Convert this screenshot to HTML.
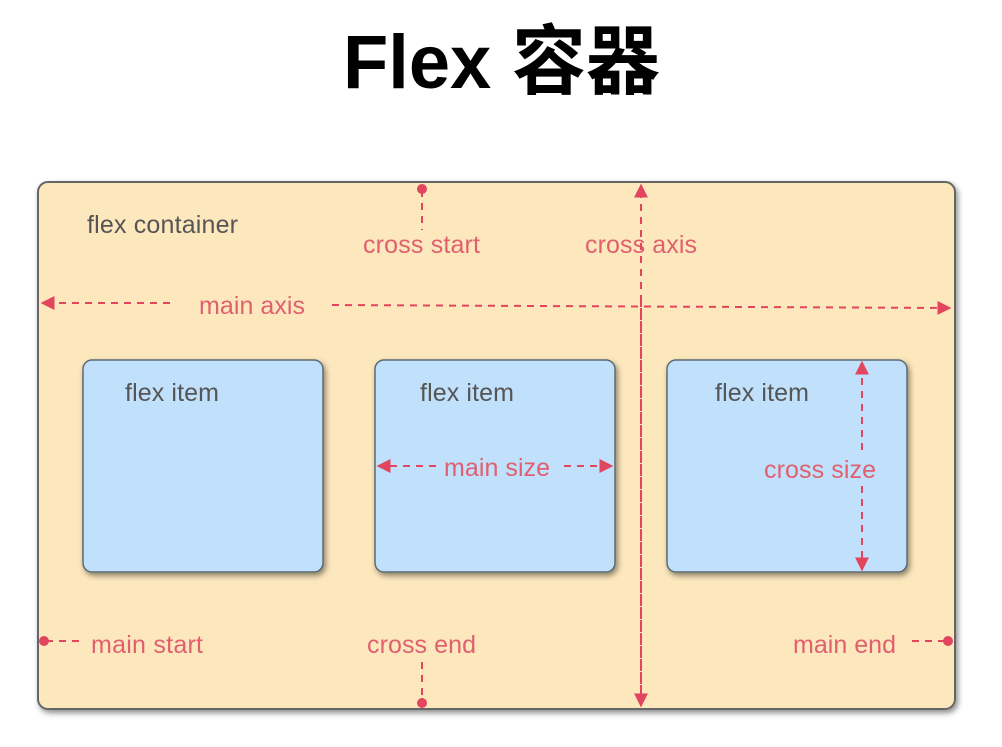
<!DOCTYPE html>
<html><head><meta charset="utf-8"><style>html,body{margin:0;padding:0;background:#fff;width:1002px;height:747px;overflow:hidden}</style></head>
<body>
<svg width="1002" height="747" xmlns="http://www.w3.org/2000/svg">
<defs>
<filter id="sh" x="-10%" y="-10%" width="130%" height="130%"><feDropShadow dx="2" dy="3" stdDeviation="3" flood-color="#000" flood-opacity="0.45"/></filter>
<marker id="ar" viewBox="0 0 10 10" refX="9" refY="5" markerWidth="14" markerHeight="14" markerUnits="userSpaceOnUse" orient="auto"><path d="M0,0 L10,5 L0,10 z" fill="#e2455e"/></marker>
</defs>
<text x="343" y="88" font-family="'Liberation Sans','Noto Sans CJK SC',sans-serif" font-weight="bold" font-size="76" textLength="317" lengthAdjust="spacingAndGlyphs">Flex <tspan font-family="'Noto Sans CJK SC',sans-serif">容器</tspan></text>
<rect x="38" y="182" width="917" height="527" rx="10" fill="#fde7bd" stroke="#666" stroke-width="2" filter="url(#sh)"/>
<g fill="#c0e0fb" stroke="#5a6a70" stroke-width="1.5" filter="url(#sh)">
<rect x="83" y="360" width="240" height="212" rx="9"/>
<rect x="375" y="360" width="240" height="212" rx="9"/>
<rect x="667" y="360" width="240" height="212" rx="9"/>
</g>
<g font-family="'Liberation Sans',sans-serif" font-size="25" lengthAdjust="spacingAndGlyphs">
<text x="87" y="233" fill="#555" textLength="151">flex container</text>
<text x="125" y="401" fill="#555" textLength="94">flex item</text>
<text x="420" y="401" fill="#555" textLength="94">flex item</text>
<text x="715" y="401" fill="#555" textLength="94">flex item</text>
<g fill="#e06070">
<text x="363" y="253" textLength="117">cross start</text>
<text x="585" y="253" textLength="112">cross axis</text>
<text x="199" y="314" textLength="106">main axis</text>
<text x="444" y="476" textLength="106">main size</text>
<text x="764" y="478" textLength="112">cross size</text>
<text x="91" y="653" textLength="112">main start</text>
<text x="367" y="653" textLength="109">cross end</text>
<text x="793" y="653" textLength="103">main end</text>
</g>
</g>
<g stroke="#e2455e" stroke-width="2" stroke-dasharray="7,6" fill="none">
<line x1="170" y1="303" x2="42" y2="303" marker-end="url(#ar)"/>
<line x1="332" y1="305" x2="950" y2="308" marker-end="url(#ar)"/>
<line x1="641" y1="705" x2="641" y2="185" marker-end="url(#ar)"/>
<line x1="641" y1="300" x2="641" y2="706" marker-end="url(#ar)"/>
<line x1="422" y1="190" x2="422" y2="230"/>
<line x1="422" y1="662" x2="422" y2="702"/>
<line x1="46" y1="641" x2="80" y2="641"/>
<line x1="912" y1="641" x2="946" y2="641"/>
<line x1="436" y1="466" x2="378" y2="466" marker-end="url(#ar)"/>
<line x1="564" y1="466" x2="612" y2="466" marker-end="url(#ar)"/>
<line x1="862" y1="450" x2="862" y2="362" marker-end="url(#ar)"/>
<line x1="862" y1="486" x2="862" y2="570" marker-end="url(#ar)"/>
</g>
<g fill="#e2455e">
<circle cx="422" cy="189" r="5"/>
<circle cx="422" cy="703" r="5"/>
<circle cx="44" cy="641" r="5"/>
<circle cx="948" cy="641" r="5"/>
</g>
</svg>
</body></html>
